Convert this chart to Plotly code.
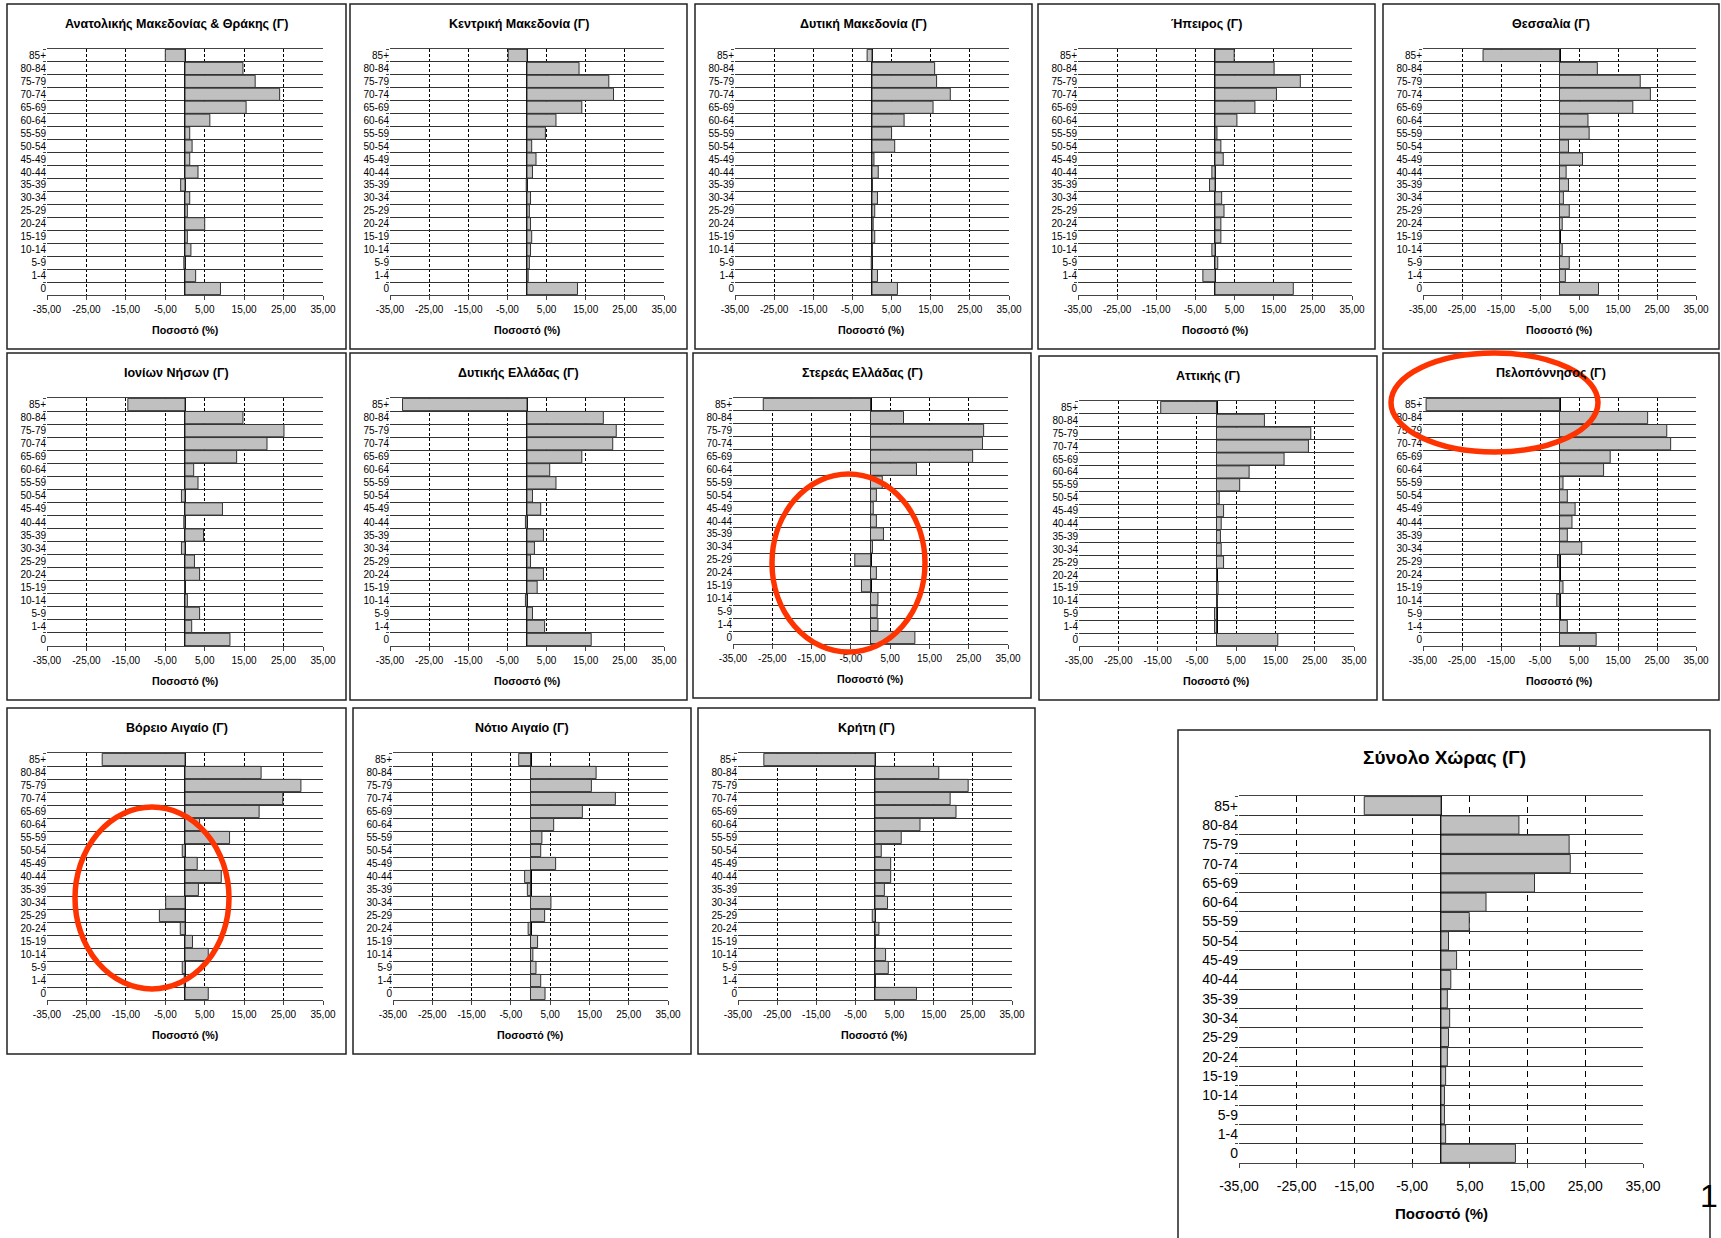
import plotly.graph_objects as go

# ---------------- data ----------------
age_groups = ["85+", "80-84", "75-79", "70-74", "65-69", "60-64", "55-59", "50-54",
              "45-49", "40-44", "35-39", "30-34", "25-29", "20-24", "15-19",
              "10-14", "5-9", "1-4", "0"]
x_tick_vals = [-35, -25, -15, -5, 5, 15, 25, 35]
x_tick_text = ["-35,00", "-25,00", "-15,00", "-5,00", "5,00", "15,00", "25,00", "35,00"]

region_names = [
    "Ανατολικής Μακεδονίας & Θράκης (Γ)", "Κεντρική Μακεδονία (Γ)", "Δυτική Μακεδονία (Γ)",
    "Ήπειρος (Γ)", "Θεσσαλία (Γ)", "Ιονίων Νήσων (Γ)", "Δυτικής Ελλάδας (Γ)",
    "Στερεάς Ελλάδας (Γ)", "Αττικής (Γ)", "Πελοπόννησος (Γ)", "Βόρειο Αιγαίο (Γ)",
    "Νότιο Αιγαίο (Γ)", "Κρήτη (Γ)", "Σύνολο Χώρας (Γ)",
]

amth = [-5.0, 14.7, 17.8, 24.0, 15.5, 6.3, 1.2, 1.8, 1.2, 3.3, -1.1, 1.2, 0.6, 5.0, 0.6, 1.5, -0.3, 2.7, 9.0]
kentriki_mak = [-4.8, 13.3, 20.9, 22.1, 14.0, 7.4, 4.7, 1.2, 2.3, 1.4, -0.2, 0.9, 0.6, 0.9, 1.2, 0.9, 0.6, 0.3, 12.9]
dytiki_mak = [-1.25, 16.0, 16.5, 20.0, 15.6, 8.2, 5.0, 5.8, 0.5, 1.6, 0.1, 1.4, 0.7, 0.3, 0.7, 0.05, -0.2, 1.4, 6.5]
ipeiros = [4.9, 15.1, 21.8, 15.7, 10.2, 5.6, 0.5, 1.5, 2.1, -0.8, -1.4, 1.7, 2.3, 1.5, 1.5, -0.8, 0.7, -3.1, 20.0]
thessalia = [-19.6, 9.7, 20.7, 23.3, 18.8, 7.3, 7.6, 2.3, 5.9, 1.7, 2.3, 1.0, 2.5, 0.7, 0.0, 0.7, 2.5, 1.5, 10.0]
ionia = [-14.5, 14.7, 25.1, 20.8, 13.1, 2.2, 3.3, -0.9, 9.5, -0.3, 4.7, -0.9, 2.4, 3.7, -0.1, 0.6, 3.7, 1.7, 11.4]
dytiki_ellada = [-31.8, 19.5, 22.8, 21.9, 14.0, 5.8, 7.4, 1.4, 3.5, -0.4, 4.2, 1.9, 0.9, 4.2, 2.6, -0.4, 1.4, 4.5, 16.4]
sterea = [-27.3, 8.4, 28.8, 28.5, 26.0, 11.7, 3.0, 1.5, 0.7, 1.5, 3.3, 0.5, -4.0, 1.5, -2.3, 1.9, 1.7, 1.9, 11.3]
attiki = [-14.2, 12.2, 24.0, 23.4, 17.2, 8.3, 5.9, 0.7, 1.8, 1.2, 1.0, 1.2, 1.8, 0.0, 0.4, 0.2, -0.5, -0.5, 15.6]
peloponnisos = [-34.2, 22.6, 27.5, 28.5, 13.0, 11.3, 0.9, 2.0, 4.0, 3.2, 2.0, 5.7, -0.5, 0.0, 0.9, -0.7, 0.0, 2.0, 9.4]
voreio_aigaio = [-21.0, 19.3, 29.4, 24.8, 18.8, 3.7, 11.3, -0.7, 3.1, 9.2, 3.4, -4.9, -6.5, -1.2, 1.9, 5.9, -0.7, -0.2, 5.9]
notio_aigaio = [-3.0, 16.7, 15.5, 21.6, 13.2, 5.9, 2.9, 2.6, 6.4, -1.5, -0.8, 5.2, 3.6, -0.6, 1.8, 0.6, 1.4, 2.6, 3.7]
kriti = [-28.4, 16.3, 23.8, 19.2, 20.7, 11.5, 6.7, 1.6, 4.0, 4.0, 2.4, 3.2, -0.7, 1.0, 0.0, 2.7, 3.4, 0.0, 10.6]
synolo = [-13.3, 13.5, 22.2, 22.4, 16.2, 7.8, 4.9, 1.3, 2.7, 1.7, 1.1, 1.5, 1.3, 1.1, 0.8, 0.6, 0.6, 0.8, 12.9]

series = [amth, kentriki_mak, dytiki_mak, ipeiros, thessalia, ionia, dytiki_ellada,
          sterea, attiki, peloponnisos, voreio_aigaio, notio_aigaio, kriti, synolo]
axis_title = "Ποσοστό (%)"
page_number = "1"

# ---------------- layout (pixels) ----------------
W, H = 1721, 1238
FONT = "Liberation Sans, Arial, sans-serif"

# panel frames: x0, y0, x1, y1
panels = [
    (7, 4, 346, 349), (350, 4, 687, 349), (695, 4, 1032, 349), (1038, 4, 1375, 349), (1383, 4, 1719, 349),
    (7, 353, 346, 700), (350, 353, 687, 700), (693, 353, 1031, 698), (1039, 356, 1377, 700), (1383, 353, 1719, 700),
    (7, 708, 346, 1054), (353, 708, 691, 1054), (698, 708, 1035, 1054),
    (1178, 730, 1710, 1260),
]


def px(x):
    return x / W


def py(y):
    return 1 - y / H


fig = go.Figure()
shapes = []
annotations = []

for i, (name, vals, frame) in enumerate(zip(region_names, series, panels)):
    k = i + 1
    big = (i == len(panels) - 1)
    x0, y0, x1, y1 = frame
    if big:
        pl, pr, pt, pb = 1239, 1643, 796, 1163
        tick_fs, title_fs, atitle_fs = 14, 19, 15
        title_y, atitle_y = 757, 1213
        standoff = 6
        dash = "6px,5px"
    else:
        pl, pr, pt, pb = x0 + 40, x1 - 23, y0 + 45, y1 - 54
        tick_fs, title_fs, atitle_fs = 10, 12.5, 10.7
        title_y, atitle_y = y0 + 20, y1 - 19
        standoff = 1
        dash = "3px,2px"

    xa = "x" if k == 1 else f"x{k}"
    ya = "y" if k == 1 else f"y{k}"
    fig.add_trace(go.Bar(
        x=vals, y=age_groups, orientation="h",
        marker=dict(color="#c0c0c0", line=dict(color="#333333", width=1)),
        xaxis=xa, yaxis=ya, showlegend=False, hoverinfo="x+y",
    ))

    fig.layout[f"xaxis{'' if k == 1 else k}"] = dict(
        domain=[px(pl), px(pr)], anchor=ya, range=[-35, 35], automargin=False,
        tickmode="array", tickvals=x_tick_vals, ticktext=x_tick_text,
        showgrid=True, gridcolor="#000000", griddash=dash, gridwidth=1,
        zeroline=True, zerolinecolor="#000000", zerolinewidth=1.5,
        showline=True, linecolor="#444444", linewidth=1, mirror=True,
        ticks="outside", ticklen=4, tickcolor="#444444",
        ticklabelstandoff=standoff,
        tickfont=dict(family=FONT, size=tick_fs, color="#000000"),
        fixedrange=True,
    )
    fig.layout[f"yaxis{'' if k == 1 else k}"] = dict(
        domain=[py(pb), py(pt)], anchor=xa, type="category", automargin=False,
        categoryorder="array", categoryarray=age_groups, autorange="reversed",
        tickson="boundaries", showgrid=True, gridcolor="#333333", gridwidth=1,
        ticks="outside", ticklen=3, tickcolor="#444444",
        showline=False, zeroline=False,
        tickfont=dict(family=FONT, size=tick_fs, color="#000000"),
        fixedrange=True,
    )

    shapes.append(dict(type="rect", xref="paper", yref="paper",
                       x0=px(x0), x1=px(x1), y0=py(y1), y1=py(y0),
                       line=dict(color="#222222", width=1.5), layer="below"))
    annotations.append(dict(text=f"<b>{name}</b>", xref="paper", yref="paper",
                            x=px((x0 + x1) / 2), y=py(title_y), xanchor="center", yanchor="middle",
                            showarrow=False, font=dict(family=FONT, size=title_fs, color="#000000")))
    annotations.append(dict(text=f"<b>{axis_title}</b>", xref="paper", yref="paper",
                            x=px((pl + pr) / 2), y=py(atitle_y), xanchor="center", yanchor="middle",
                            showarrow=False, font=dict(family=FONT, size=atitle_fs, color="#000000")))

# red highlight ellipses
for (ex0, ey0, ex1, ey1) in [(1391, 353, 1598, 452), (772, 474, 925, 652), (75, 807, 229, 989)]:
    shapes.append(dict(type="circle", xref="paper", yref="paper",
                       x0=px(ex0), x1=px(ex1), y0=py(ey1), y1=py(ey0),
                       line=dict(color="#ff3300", width=5.5), layer="above"))

# page number
annotations.append(dict(text=page_number, xref="paper", yref="paper", x=px(1698), y=py(1196),
                        xanchor="left", yanchor="middle", showarrow=False,
                        font=dict(family="Liberation Sans, Arial, sans-serif", size=32, color="#000000")))

fig.update_layout(
    width=W, height=H, margin=dict(l=0, r=0, t=0, b=0, autoexpand=False),
    paper_bgcolor="white", plot_bgcolor="white",
    bargap=0.06, shapes=shapes, annotations=annotations,
    font=dict(family=FONT, color="#000000"),
)

fig.write_html("out.html", config={"displayModeBar": False},
               post_script="document.body.style.margin='0';document.body.style.padding='0';")
